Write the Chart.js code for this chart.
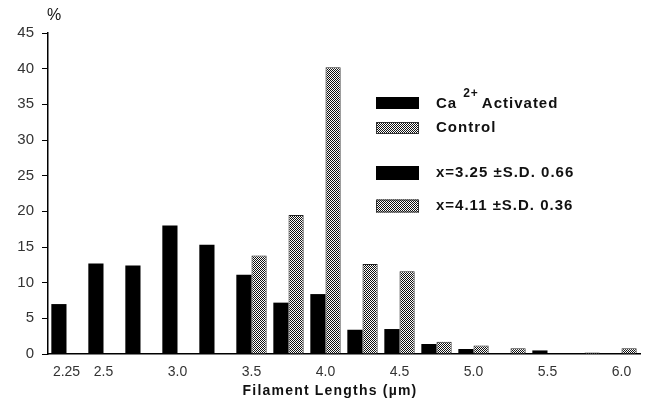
<!DOCTYPE html>
<html>
<head>
<meta charset="utf-8">
<script src="https://cdn.jsdelivr.net/npm/chart.js@4.4.0/dist/chart.umd.min.js"></script>
<style>
  html, body { margin: 0; padding: 0; background: #fff; }
</style>
</head>
<body>
<canvas id="lengthChart" width="647" height="400"></canvas>
<script>
// filament length bins (um), only some are labelled on the axis
const tickLabels = ['2.25', '2.5', '', '3.0', '', '3.5', '', '4.0', '', '4.5', '', '5.0', '', '5.5', '', '6.0'];
const caActivated = [7.0, 12.7, 12.4, 18.0, 15.3, 11.1, 7.2, 8.4, 3.4, 3.5, 1.4, 0.7, 0.1, 0.5, 0.1, 0];
const control = [0, 0, 0, 0, 0, 13.8, 19.5, 40.2, 12.6, 11.6, 1.7, 1.2, 0.8, 0, 0.2, 0.8];
const yMax = 45;
const yStep = 5;
const statLabels = ['x=3.25 \u00b1S.D. 0.66', 'x=4.11 \u00b1S.D. 0.36'];

const FONT = "'Liberation Sans', Arial, sans-serif";

const canvas = document.getElementById('lengthChart');
const ctx = canvas.getContext('2d');

// fine grey screen used for the control bars
function makeHatch() {
    const c = document.createElement('canvas');
    c.width = 4; c.height = 4;
    const g = c.getContext('2d');
    g.fillStyle = '#fff';
    g.fillRect(0, 0, 4, 4);
    g.fillStyle = '#111';
    for (let y = 0; y < 4; y++) {
        for (let x = 0; x < 4; x++) {
            if ((x + y) % 2 === 0) g.fillRect(x, y, 1, 1);
        }
    }
    return ctx.createPattern(c, 'repeat');
}
const hatch = makeHatch();

const overlay = {
    id: 'overlay',
    afterDraw(chart) {
        const c = chart.ctx;
        c.save();
        c.fillStyle = '#111';
        c.textBaseline = 'middle';

        // unit over y axis
        c.font = '16px ' + FONT;
        c.textAlign = 'center';
        c.fillText('%', 54, 16);

        // x axis title
        c.font = 'bold 14px ' + FONT;
        c.letterSpacing = '1.2px';
        c.fillText('Filament Lengths (\u00b5m)', 330, 391);

        // legend
        c.textAlign = 'left';
        const boxX = 376, boxW = 43;
        const rows = [
            { y: 103, h: 12, fill: '#000' },
            { y: 128, h: 12, fill: hatch },
            { y: 173, h: 14, fill: '#000' },
            { y: 206, h: 13, fill: hatch }
        ];
        rows.forEach(r => {
            c.fillStyle = r.fill;
            c.fillRect(boxX, r.y - r.h / 2, boxW, r.h);
            if (r.fill !== '#000') {
                c.strokeStyle = '#333';
                c.lineWidth = 1;
                c.strokeRect(boxX + 0.5, r.y - r.h / 2 + 0.5, boxW - 1, r.h - 1);
            }
        });

        c.fillStyle = '#111';
        c.letterSpacing = '1px';
        c.font = 'bold 15px ' + FONT;
        const tx = 436;
        c.fillText('Ca', tx, 104);
        let w = c.measureText('Ca').width;
        c.font = 'bold 12px ' + FONT;
        c.fillText('2+', tx + w + 6, 94);
        let w2 = c.measureText('2+').width;
        c.font = 'bold 15px ' + FONT;
        c.fillText('Activated', tx + w + w2 + 9, 104);
        c.fillText('Control', tx, 128);
        c.fillText(statLabels[0], tx, 173);
        c.fillText(statLabels[1], tx, 206);
        c.restore();
    }
};

new Chart(ctx, {
    type: 'bar',
    data: {
        labels: tickLabels,
        datasets: [{
            label: 'Ca2+ Activated',
            data: caActivated,
            backgroundColor: '#000',
            borderWidth: 0,
            categoryPercentage: 0.82,
            barPercentage: 1.0
        }, {
            label: 'Control',
            data: control,
            backgroundColor: hatch,
            borderColor: '#222',
            borderWidth: 1,
            categoryPercentage: 0.82,
            barPercentage: 1.0
        }]
    },
    options: {
        responsive: false,
        animation: false,
        layout: { padding: { top: 33, right: 7, left: 0, bottom: 0 } },
        plugins: {
            legend: { display: false },
            tooltip: { enabled: false }
        },
        scales: {
            x: {
                grid: { display: false, drawTicks: false },
                border: { display: true, color: '#000', width: 1.5 },
                ticks: {
                    autoSkip: false,
                    maxRotation: 0,
                    color: '#333',
                    padding: 10,
                    font: { family: FONT, size: 14 }
                },
                afterFit: function (scale) { scale.height = 46; }
            },
            y: {
                min: 0,
                max: yMax,
                ticks: {
                    stepSize: yStep,
                    color: '#333',
                    padding: 8,
                    font: { family: FONT, size: 15 }
                },
                grid: { drawOnChartArea: false, drawTicks: true, tickLength: 6, color: '#000', lineWidth: 1 },
                border: { display: true, color: '#000', width: 1.5 },
                afterFit: function (scale) { scale.width = 48; }
            }
        }
    },
    plugins: [overlay]
});
</script>
</body>
</html>
